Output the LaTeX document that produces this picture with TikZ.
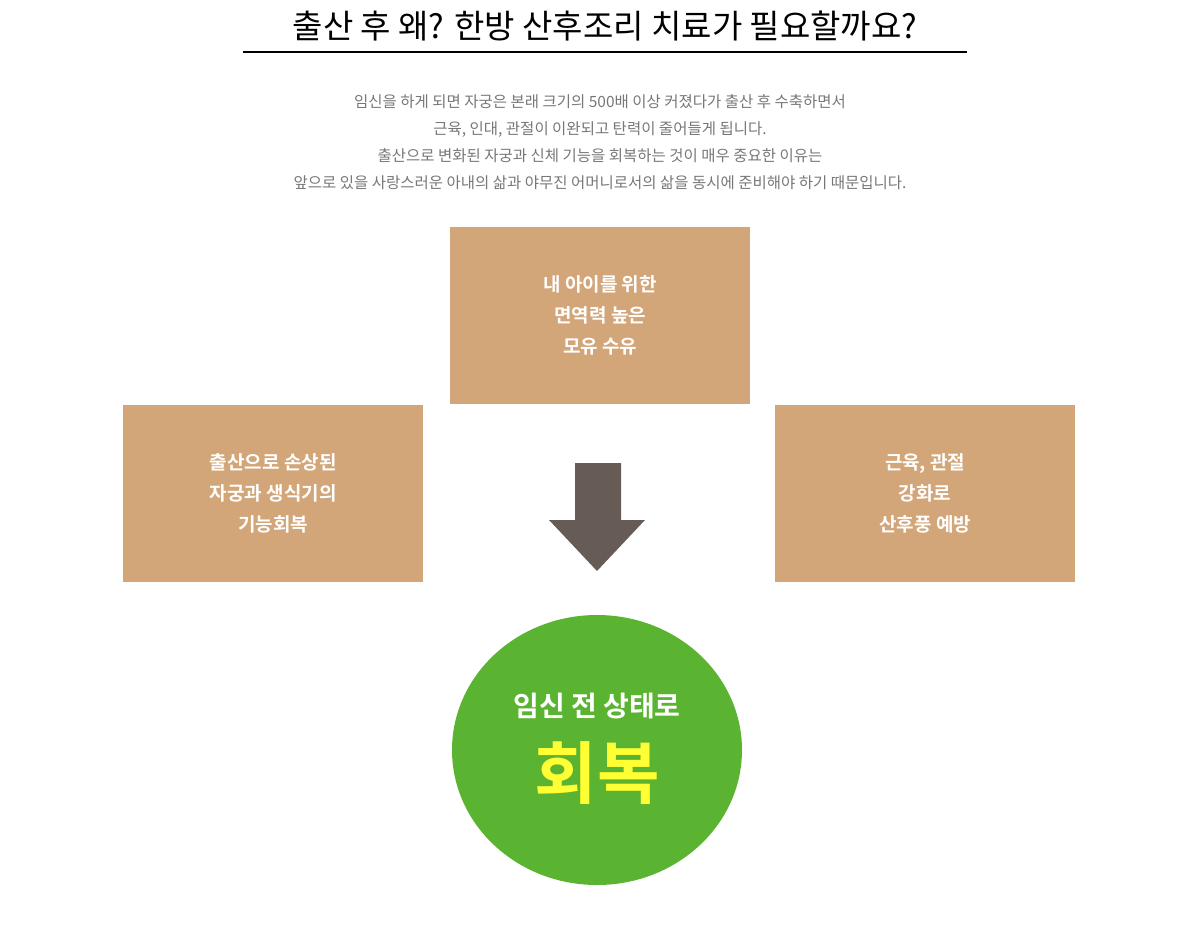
\documentclass[tikz,border=0pt]{standalone}
\usepackage{fontspec}
\usetikzlibrary{shapes.geometric}
\newfontfamily\kr{Noto Sans CJK KR}
\newfontfamily\krb{Noto Sans CJK KR Bold}
\definecolor{boxc}{HTML}{D2A679}
\definecolor{arrc}{HTML}{665C55}
\definecolor{grn}{HTML}{5BB431}
\definecolor{ylw}{HTML}{FFFF33}
\definecolor{txt}{HTML}{777777}
\begin{document}
\begin{tikzpicture}[x=1pt,y=-1pt,
  bx/.style={fill=boxc,minimum width=300pt,minimum height=177pt,anchor=north west,inner sep=0pt,
    text=white,font=\krb\fontsize{19}{31}\selectfont,align=center},
  body/.style={text=txt,font=\kr\fontsize{15.5}{27}\selectfont,align=center}]
\useasboundingbox (0,0) rectangle (1200,951);
\node[font=\kr\fontsize{33}{36}\selectfont,text=black] (title) at (605,26) {출산 후 왜? 한방 산후조리 치료가 필요할까요?};
\draw[line width=1.5pt] (243,52) -- (967,52);
\node[body] (desc) at (600,142) {임신을 하게 되면 자궁은 본래 크기의 500배 이상 커졌다가 출산 후 수축하면서\\근육, 인대, 관절이 이완되고 탄력이 줄어들게 됩니다.\\출산으로 변화된 자궁과 신체 기능을 회복하는 것이 매우 중요한 이유는\\앞으로 있을 사랑스러운 아내의 삶과 야무진 어머니로서의 삶을 동시에 준비해야 하기 때문입니다.};
\node[bx] (top) at (450,227) {내 아이를 위한\\면역력 높은\\모유 수유};
\node[bx] (left) at (123,405) {출산으로 손상된\\자궁과 생식기의\\기능회복};
\node[bx] (right) at (775,405) {근육, 관절\\강화로\\산후풍 예방};
\fill[arrc] (575,463) -- (621,463) -- (621,520) -- (645,520) -- (597,571) -- (549,520) -- (575,520) -- cycle;
\node[ellipse,fill=grn,minimum width=290pt,minimum height=270pt,inner sep=0pt] (circ) at (597,750) {};
\node[text=white,font=\krb\fontsize{28}{30}\selectfont] (c1) at (597,706) {임신 전 상태로};
\node[text=ylw,font=\krb\fontsize{68}{70}\selectfont] (c2) at (597,773) {회복};
\end{tikzpicture}
\end{document}
